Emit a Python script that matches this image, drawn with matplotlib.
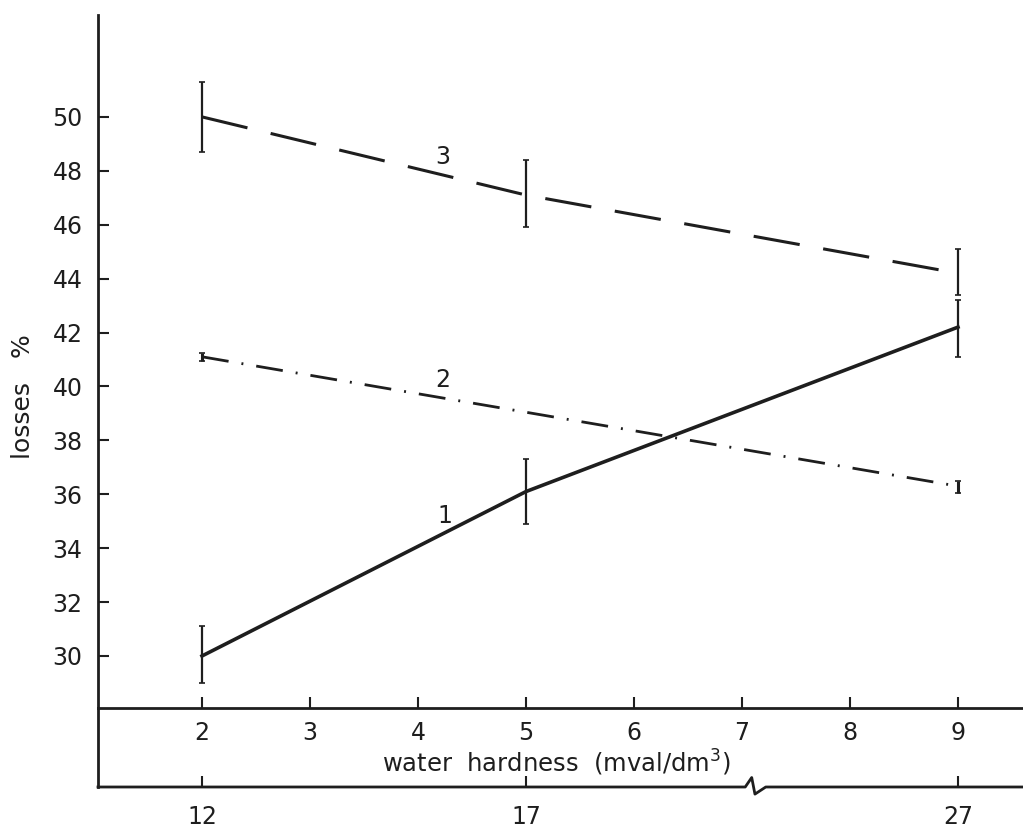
import matplotlib
matplotlib.use("Agg")
import matplotlib.pyplot as plt
import matplotlib.transforms as mtransforms

# data
x = [2, 5, 9]
loss1 = [30.0, 36.1, 42.2]
loss1_lo = [29.0, 34.9, 41.1]
loss1_hi = [31.1, 37.3, 43.2]

x2 = [2, 9]
loss2 = [41.1, 36.3]
loss2_lo = [40.95, 36.05]
loss2_hi = [41.25, 36.5]

loss3 = [50.0, 47.1, 44.2]
loss3_lo = [48.7, 45.9, 43.4]
loss3_hi = [51.3, 48.4, 45.1]

yticks = [30, 32, 34, 36, 38, 40, 42, 44, 46, 48, 50]
xticks = [2, 3, 4, 5, 6, 7, 8, 9]
lower_pos = [2, 5, 9]
lower_labels = ["12", "17", "27"]

W, H = 1023, 832
ink = "#1e1e1e"
fs = 17
plt.rcParams["font.family"] = ["DejaVu Sans"]

fig = plt.figure(figsize=(W / 100, H / 100), dpi=100)
ax = fig.add_axes([98 / W, (H - 708) / H, (W - 98) / W, (708 - 15) / H])
ax.set_xlim(1.037, 9.602)
ax.set_ylim(28.07, 53.78)


def err(v, lo, hi):
    return [[a - b for a, b in zip(v, lo)], [c - a for a, c in zip(v, hi)]]


ax.errorbar(x, loss1, yerr=err(loss1, loss1_lo, loss1_hi), color=ink, lw=2.6,
            elinewidth=1.6, capsize=2.5, capthick=1.2)
l2 = ax.errorbar(x2, loss2, yerr=err(loss2, loss2_lo, loss2_hi), color=ink, lw=2.0,
                 elinewidth=2.2, capsize=2.5, capthick=1.2)
l2.lines[0].set_dashes([9.7, 4.7, 0.7, 4.7])
l3 = ax.errorbar(x, loss3, yerr=err(loss3, loss3_lo, loss3_hi), color=ink, lw=2.2,
                 elinewidth=1.6, capsize=2.5, capthick=1.2)
l3.lines[0].set_dashes([15.3, 7.8])

ax.text(4.23, 48.5, "3", fontsize=fs, color=ink, ha="center", va="center")
ax.text(4.23, 40.25, "2", fontsize=fs, color=ink, ha="center", va="center")
ax.text(4.25, 35.2, "1", fontsize=fs, color=ink, ha="center", va="center")

for s in ["top", "right"]:
    ax.spines[s].set_visible(False)
for s in ["left", "bottom"]:
    ax.spines[s].set_linewidth(2.0)
    ax.spines[s].set_color(ink)
ax.set_yticks(yticks)
ax.set_xticks(xticks)
ax.tick_params(direction="in", length=8, width=1.5, colors=ink, labelsize=fs)
ax.tick_params(axis="y", pad=11)
ax.tick_params(axis="x", pad=9)

# lower scale with a break
ax2 = fig.add_axes([98 / W, (H - 787) / H, (W - 98) / W, (787 - 708) / H])
ax2.set_xlim(ax.get_xlim())
ax2.set_ylim(0, 1)
ax2.patch.set_visible(False)
for s in ["top", "right", "bottom"]:
    ax2.spines[s].set_visible(False)
ax2.spines["left"].set_linewidth(2.0)
ax2.spines["left"].set_color(ink)
ax2.set_yticks([])
ax2.set_xticks(lower_pos)
ax2.set_xticklabels(lower_labels)
ax2.tick_params(direction="in", length=8, width=1.5, colors=ink, labelsize=fs, pad=13)
tr = mtransforms.blended_transform_factory(ax2.transData, ax2.transAxes)
ax2.plot([1.037, 7.03, 7.09, 7.12, 7.22, 9.602], [0, 0, 0.12, -0.09, 0, 0],
         color=ink, lw=2.0, transform=tr, clip_on=False)

fig.text(556 / W, 1 - 763 / H, "water  hardness  (mval/dm$^3$)", fontsize=17.5,
         color=ink, ha="center", va="center")
fig.text(23 / W, 1 - 397 / H, "losses   %", fontsize=18, color=ink,
         rotation=90, ha="center", va="center")

fig.savefig("out.png", dpi=100)
